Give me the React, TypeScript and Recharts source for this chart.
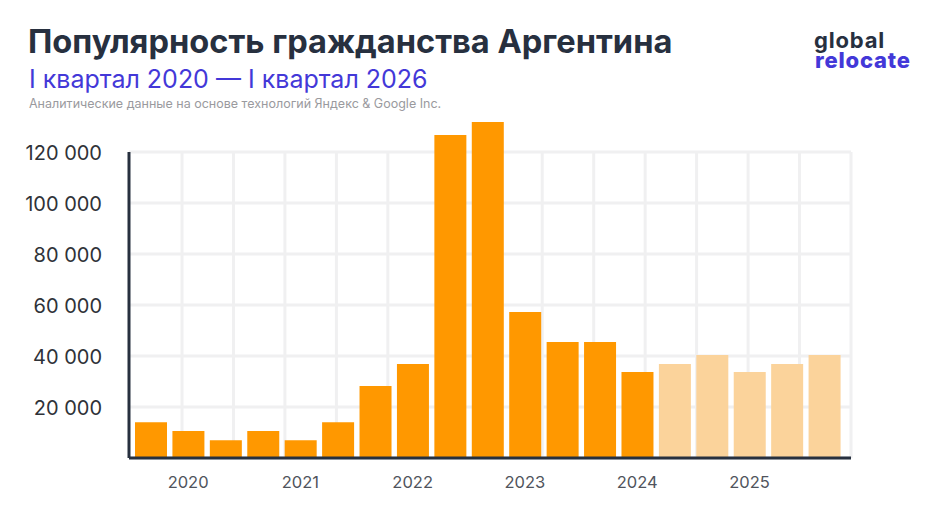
import { BarChart, Bar, Cell, XAxis, YAxis, CartesianGrid, ReferenceLine } from "recharts";

const categories = [
  "2020 a", "2020", "2020 b",
  "2021 a", "2021", "2021 b",
  "2022 a", "2022", "2022 b",
  "2023 a", "2023", "2023 b",
  "2024 a", "2024", "2024 b",
  "2025 a", "2025", "2025 b",
  "2026 a",
];
const popularity = [
  14000, 10600, 7000, 10600, 7000, 14000, 28200, 36900, 126700, 131800,
  57300, 45500, 45500, 33700, 36900, 40400, 33700, 36900, 40400,
];
const yearTicks = ["2020", "2021", "2022", "2023", "2024", "2025"];
const valueTicks = [0, 20000, 40000, 60000, 80000, 100000, 120000];
const gridColumns = [1, 2, 3, 4, 5, 6, 7, 8, 9, 10, 11, 12, 13, 14];
const firstForecast = 14;

const data = categories.map((quarter, i) => ({ quarter, value: popularity[i] }));

const DARK = "#27303f";
const BLUE = "#4338d8";
const GRID = "#f0f0f1";

const formatValue = (v: number) => (v === 0 ? "" : String(v).replace(/(\d)(?=(\d{3})$)/, "$1 "));

export default function App() {
  return (
    <div style={{ position: "absolute", left: 0, top: 0, width: 935, height: 522, background: "#fff", fontFamily: "Inter, sans-serif", overflow: "hidden" }}>
      <BarChart width={935} height={522} data={data} margin={{ top: 101, right: 84, bottom: 0, left: 0 }} barSize={32}>
        <CartesianGrid vertical={false} stroke={GRID} strokeWidth={3} syncWithTicks />
        <XAxis
          dataKey="quarter"
          ticks={yearTicks}
          interval={0}
          height={64}
          padding={{ left: 3, right: 8 }}
          tickLine={false}
          tickMargin={12}
          axisLine={{ stroke: DARK, strokeWidth: 3 }}
          tick={{ fontSize: 16.5, fill: "#50545c" }}
        />
        <XAxis xAxisId="grid" dataKey="gridColumn" type="number" domain={[-0.03, 14]} allowDataOverflow hide />
        <YAxis
          width={129}
          domain={[0, 140000]}
          ticks={valueTicks}
          tickFormatter={formatValue}
          axisLine={false}
          tickLine={false}
          tickMargin={21}
          tick={{ fontSize: 20, fill: "#2f3238", dy: 1 }}
        />
        {gridColumns.map((c) => (
          <ReferenceLine
            key={c}
            xAxisId="grid"
            segment={[{ x: c, y: 0 }, { x: c, y: 120000 }]}
            stroke={GRID}
            strokeWidth={3}
            zIndex={100}
          />
        ))}
        <ReferenceLine
          xAxisId="grid"
          segment={[{ x: -0.03, y: 0 }, { x: -0.03, y: 120000 }]}
          stroke={DARK}
          strokeWidth={3}
        />
        <Bar dataKey="value" isAnimationActive={false}>
          {data.map((d, i) => (
            <Cell key={d.quarter} fill={i >= firstForecast ? "#fbd39b" : "#ff9800"} />
          ))}
        </Bar>
      </BarChart>

      <div style={{ position: "absolute", left: 28, top: 22, fontSize: 32.6, fontWeight: 700, lineHeight: "38px", color: DARK, whiteSpace: "nowrap" }}>
        Популярность гражданства Аргентина
      </div>
      <div style={{ position: "absolute", left: 29, top: 64, fontSize: 25, lineHeight: "30px", color: BLUE, whiteSpace: "nowrap" }}>
        I квартал 2020 — I квартал 2026
      </div>
      <div style={{ position: "absolute", left: 29, top: 96, fontSize: 12.5, lineHeight: "15px", color: "#9a9a9e", whiteSpace: "nowrap" }}>
        Аналитические данные на основе технологий Яндекс &amp; Google Inc.
      </div>
      <div style={{ position: "absolute", left: 814, top: 30, fontSize: 22, letterSpacing: 0.8, fontWeight: 700, lineHeight: "20px", color: DARK }}>
        global
      </div>
      <div style={{ position: "absolute", left: 815, top: 51, fontSize: 22, letterSpacing: 0.8, fontWeight: 800, lineHeight: "18px", color: BLUE }}>
        relocate
      </div>
    </div>
  );
}
